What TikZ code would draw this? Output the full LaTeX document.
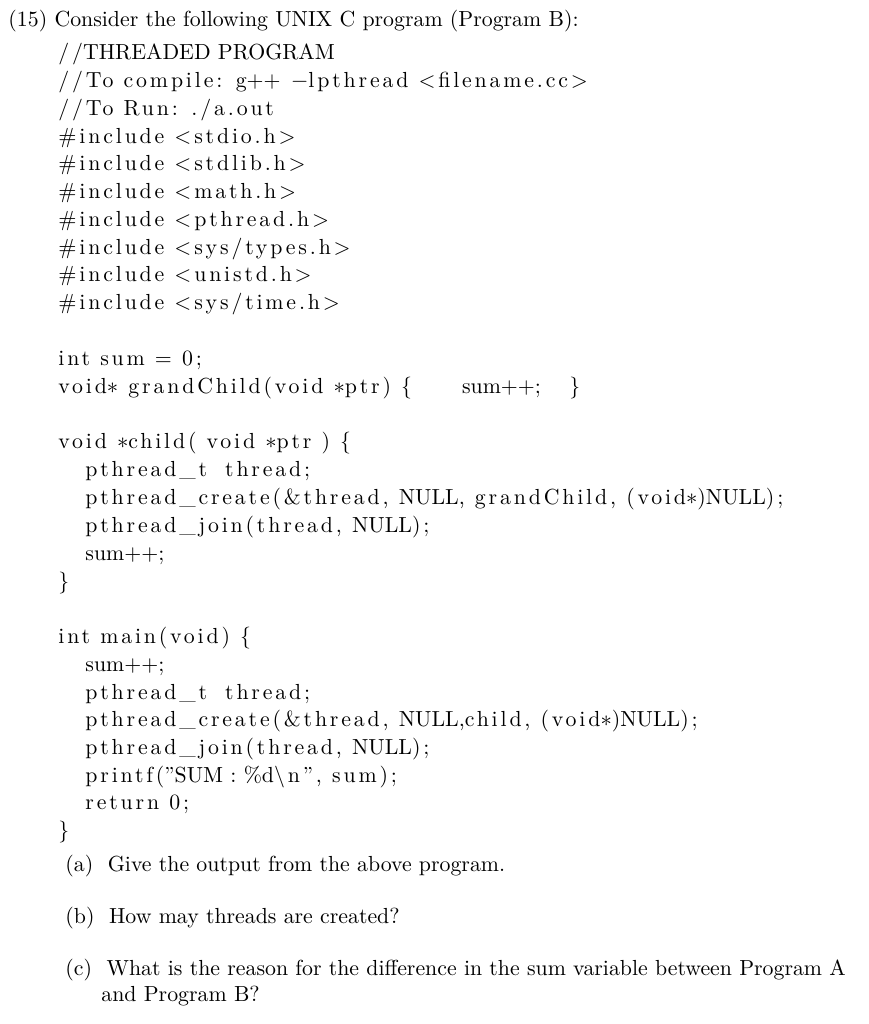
\documentclass[tikz,border=0pt]{standalone}
\usepackage{fontspec}
\setmainfont{Latin Modern Roman}
\newcommand{\cs}{\addfontfeature{LetterSpace=13}}
\newcommand{\ns}[1]{{\addfontfeature{LetterSpace=0}#1}}
\begin{document}
\begin{tikzpicture}[x=0.44pt,y=-0.44pt,
 t/.style={anchor=base west,inner sep=0pt,font=\fontsize{9.6}{12}\selectfont},
 c/.style={t,font=\fontsize{9.6}{12}\selectfont\cs}]
\useasboundingbox (0,0) rectangle (868,1024);
\node[t] (l0) at (8,26) {(15) Consider the following UNIX C program (Program B):};
\node[c] (l1) at (58,59) {//\ns{THREADED PROGRAM}};
\node[c] (l2) at (58,87) {//To compile: \ns{g++} $-$lpthread <filename.cc>};
\node[c] (l3) at (58,115) {//To Run: ./a.out};
\node[c] (l4) at (58,143) {\#include <stdio.h>};
\node[c] (l5) at (58,170) {\#include <stdlib.h>};
\node[c] (l6) at (58,198) {\#include <math.h>};
\node[c] (l7) at (58,226) {\#include <pthread.h>};
\node[c] (l8) at (58,254) {\#include <sys/types.h>};
\node[c] (l9) at (58,281) {\#include <unistd.h>};
\node[c] (l10) at (58,309) {\#include <sys/time.h>};
\node[c] (l11) at (58,365) {int sum = 0;};
\node[c] (l12) at (58,393) {void$*$ grandChild(void $*$ptr) \{\hspace{22pt}\ns{sum++;}\hspace{8pt} \}};
\node[c] (l13) at (58,448) {void $*$child( void $*$ptr ) \{};
\node[c] (l14) at (85,476) {pthread\_t\hspace{8pt}thread;};
\node[c] (l15) at (85,504) {pthread\_create(\&thread, \ns{NULL}, grandChild, (void$*$)\ns{NULL});};
\node[c] (l16) at (85,532) {pthread\_join(thread, \ns{NULL});};
\node[t] (l17) at (85,560) {sum++;};
\node[c] (l18) at (58,588) {\}};
\node[c] (l19) at (58,643) {int main(void) \{};
\node[t] (l20) at (85,671) {sum++;};
\node[c] (l21) at (85,699) {pthread\_t\hspace{8pt}thread;};
\node[c] (l22) at (85,726) {pthread\_create(\&thread, \ns{NULL,}child, (void$*$)\ns{NULL});};
\node[c] (l23) at (85,754) {pthread\_join(thread, \ns{NULL});};
\node[c] (l24) at (85,782) {printf(\ns{''SUM : \%d}\textbackslash n'', sum);};
\node[c] (l25) at (85,809) {return 0;};
\node[c] (l26) at (58,837) {\}};
\node[t] (a) at (65,871) {(a)\ \ Give the output from the above program.};
\node[t] (b) at (65,923) {(b)\ \ How may threads are created?};
\node[t] (c1) at (65,975) {(c)\ \ What is the reason for the difference in the sum variable between Program A};
\node[t] (c2) at (101,1001) {and Program B?};
\end{tikzpicture}
\end{document}
